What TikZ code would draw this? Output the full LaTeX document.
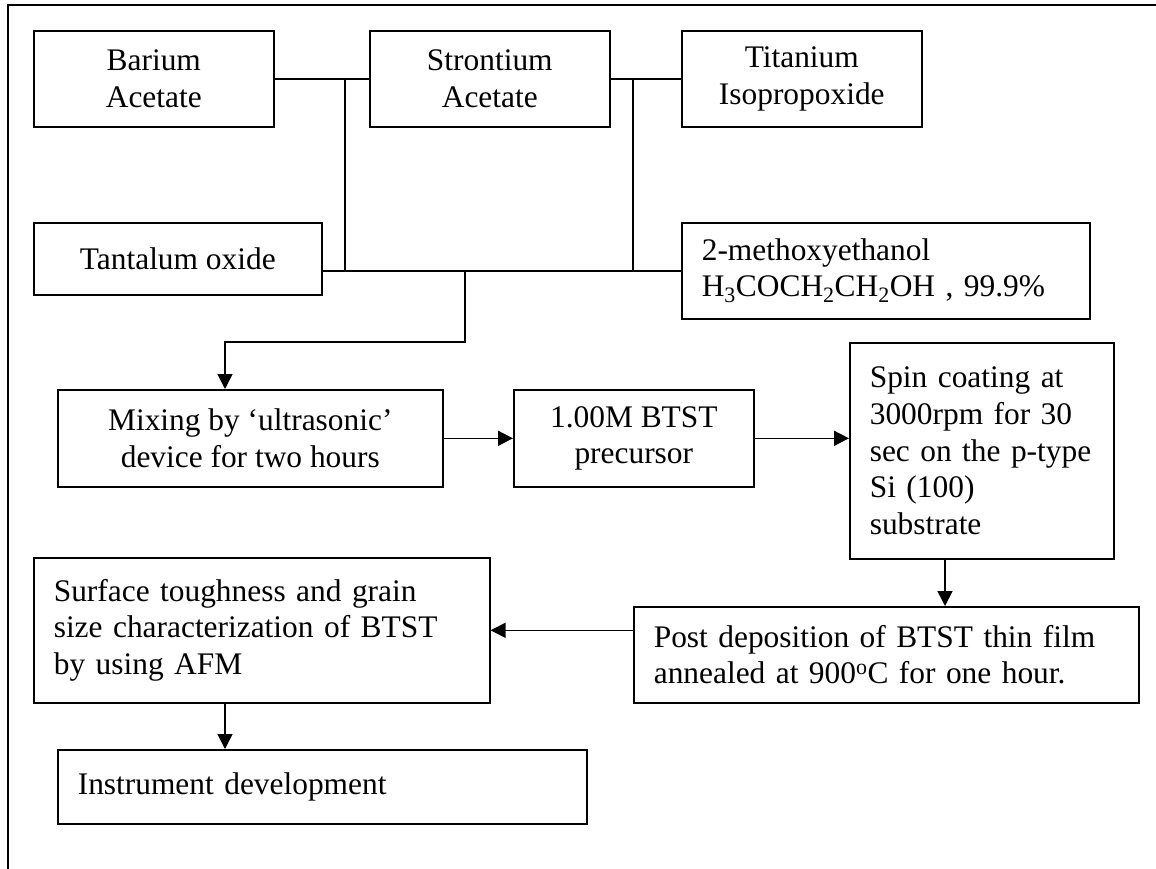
\documentclass[tikz,border=0pt]{standalone}
\usepackage{fontspec}
\setmainfont{Liberation Serif}
\usetikzlibrary{arrows.meta}
\begin{document}
\begin{tikzpicture}[x=1pt,y=-1pt,
  box/.style={draw, line width=1.6pt, inner sep=0pt, anchor=north west,
    font=\fontsize{31.4}{36.7}\selectfont},
  cbox/.style={box, align=center},
  lbox/.style={box, align=left, inner xsep=20pt},
  conn/.style={line width=1.6pt},
  arr/.style={conn, -{Triangle[length=15pt,width=15pt]}}]
\useasboundingbox (0,0) rectangle (1156,869);
\draw[line width=1.8pt] (8,869) -- (8,5) -- (1156,5);

\node[cbox, minimum width=240pt, minimum height=96pt] (ba) at (33,30) {Barium\\Acetate};
\node[cbox, minimum width=240pt, minimum height=96pt] (sr) at (369,30) {Strontium\\Acetate};
\node[cbox, minimum width=240pt, minimum height=96pt] (ti) at (681,30) {Titanium\\Isopropoxide};
\node[cbox, minimum width=288pt, minimum height=72pt] (ta) at (33,222) {Tantalum oxide};
\node[lbox, text width=368pt, minimum height=96pt] (me) at (681,222) {2-methoxyethanol\\H\textsubscript{3}COCH\textsubscript{2}CH\textsubscript{2}OH , 99.9\%};
\node[cbox, minimum width=385pt, minimum height=97pt] (mix) at (57,389) {Mixing by ‘ultrasonic’\\device for two hours};
\node[cbox, minimum width=240pt, minimum height=97pt] (btst) at (513,389) {1.00M BTST\\precursor};
\node[lbox, text width=224pt, minimum height=216pt] (spin) at (849,342) {Spin coating at\\3000rpm for 30\\sec on the p-type\\Si (100)\\substrate};
\node[lbox, text width=465pt, minimum height=96pt] (post) at (633,606) {Post deposition of BTST thin film\\annealed at 900\textsuperscript{o}C for one hour.};
\node[lbox, text width=416pt, minimum height=145pt] (surf) at (33,557) {Surface toughness and grain\\size characterization of BTST\\by using AFM};
\node[lbox, text width=489pt, minimum height=74pt] (inst) at (57,749) {Instrument development};

\coordinate (v1) at (345,270);
\coordinate (v2) at (633,270);
\coordinate (d) at (465,270);
\coordinate (k) at (225,342);
\coordinate (s1) at (945,0);
\coordinate (s2) at (225,0);

\draw[conn] (ba.east) -- (sr.west);
\draw[conn] (sr.east) -- (ti.west);
\draw[conn] (v1 |- ba.east) -- (v1);
\draw[conn] (v2 |- sr.east) -- (v2);
\draw[conn] (ta.east |- me.west) -- (me.west);
\draw[arr] (d) |- (k) -- (k |- mix.north);
\draw[arr] (mix.east) -- (btst.west);
\draw[arr] (btst.east) -- (btst.east -| spin.west);
\draw[arr] (s1 |- spin.south) -- (s1 |- post.north);
\draw[arr] (post.west |- surf.east) -- (surf.east);
\draw[arr] (s2 |- surf.south) -- (s2 |- inst.north);
\end{tikzpicture}
\end{document}
